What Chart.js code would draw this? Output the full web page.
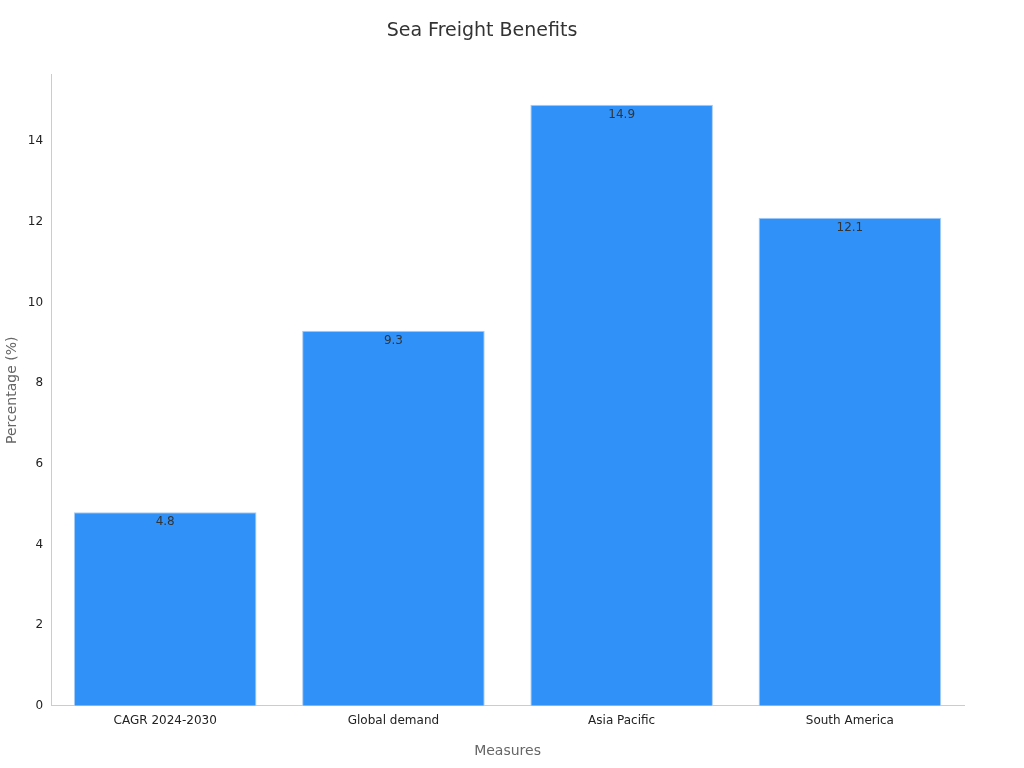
<!DOCTYPE html>
<html><head><meta charset="utf-8">
<script src="https://cdn.jsdelivr.net/npm/chart.js@4"></script>
<style>html,body{margin:0;background:#fff}#w{width:1024px;height:768px}</style>
</head><body><div id="w"><canvas id="c"></canvas></div>
<script>
const categories = ["CAGR 2024-2030", "Global demand", "Asia Pacific", "South America"];
const values = [4.8, 9.3, 14.9, 12.1];
const title = "Sea Freight Benefits";
const xTitle = "Measures";
const yTitle = "Percentage (%)";

const labelPlugin = {
  id: 'lbl',
  afterDatasetsDraw(chart) {
    const ctx = chart.ctx;
    const meta = chart.getDatasetMeta(0);
    ctx.save();
    ctx.font = '12px "DejaVu Sans", sans-serif';
    ctx.fillStyle = '#333';
    ctx.textAlign = 'center';
    ctx.textBaseline = 'top';
    meta.data.forEach((b, i) => ctx.fillText(String(values[i]), b.x, b.y + 4));
    ctx.restore();
  }
};

new Chart(document.getElementById('c'), {
  type: 'bar',
  data: { labels: categories, datasets: [{ data: values, backgroundColor: '#3092f9', borderColor: '#a9cdf5', borderWidth: 1, barPercentage: 0.8, categoryPercentage: 1 }] },
  options: {
    responsive: true, maintainAspectRatio: false, animation: false,
    layout: { padding: { left: 0, right: 60, top: 10, bottom: 4 } },
    plugins: {
      legend: { display: false }, tooltip: { enabled: false },
      title: { display: true, text: title, color: '#333', font: { family: '"DejaVu Sans", sans-serif', size: 19, weight: 'normal' }, padding: { top: 10, bottom: 32 } }
    },
    scales: {
      x: {
        grid: { display: false, drawTicks: true, tickLength: 5, color: '#ccc' },
        border: { color: '#ccc' },
        ticks: { color: '#222', font: { family: '"DejaVu Sans", sans-serif', size: 12 } },
        title: { display: true, text: xTitle, color: '#666', font: { family: '"DejaVu Sans", sans-serif', size: 14 }, padding: { top: 12 } }
      },
      y: {
        min: 0, max: 14.9 * 1.05,
        afterBuildTicks(s) { s.ticks = s.ticks.filter(t => t.value % 2 === 0); },
        grid: { display: false, drawTicks: true, tickLength: 5, color: '#ccc' },
        border: { color: '#ccc' },
        ticks: { stepSize: 2, color: '#222', font: { family: '"DejaVu Sans", sans-serif', size: 12 } },
        title: { display: true, text: yTitle, color: '#666', font: { family: '"DejaVu Sans", sans-serif', size: 14 } }
      }
    }
  },
  plugins: [labelPlugin]
});
</script></body></html>
